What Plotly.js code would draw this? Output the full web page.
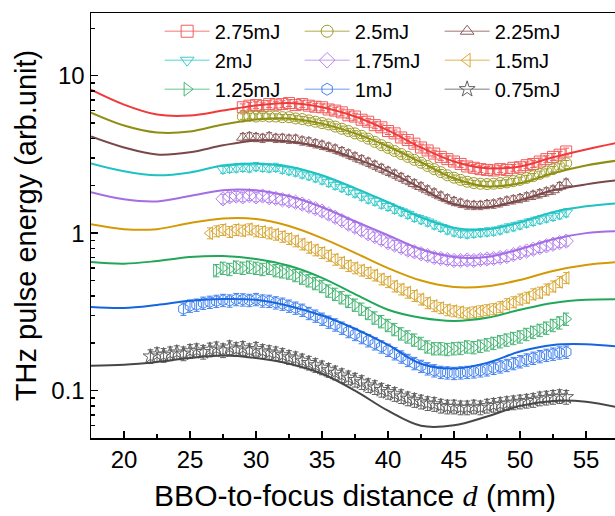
<!DOCTYPE html>
<html><head><meta charset="utf-8">
<script src="https://cdn.plot.ly/plotly-3.0.1.min.js"></script>
<style>html,body{margin:0;padding:0;overflow:hidden;background:#fff;width:615px;height:516px}#chart{width:625px;height:516px}</style>
</head><body><div id="chart"></div>
<script>
// ---- data ----
const names = ['2.75mJ','2.5mJ','2.25mJ','2mJ','1.75mJ','1.5mJ','1.25mJ','1mJ','0.75mJ'];
const xFit = [17.5,20,22.5,25,27.5,30,32.5,35,37.5,40,42.5,45,47.5,50,52.5,55,57.5];
const fit275 = [8.15,6.55,5.66,5.58,6.0,6.46,6.7,6.3,5.5,4.49,3.5,2.85,2.58,2.65,3.03,3.4,3.77];
const fit250 = [5.83,4.83,4.36,4.42,4.9,5.27,5.35,4.96,4.3,3.55,2.82,2.23,1.98,2.07,2.4,2.69,2.9];
const fit225 = [4.11,3.5,3.16,3.26,3.61,3.88,3.82,3.5,2.98,2.47,1.93,1.53,1.46,1.62,1.87,2.04,2.17];
const fit200 = [2.77,2.47,2.33,2.43,2.69,2.77,2.65,2.33,1.93,1.57,1.26,1.08,1.06,1.17,1.36,1.48,1.55];
const fit175 = [1.82,1.64,1.59,1.72,1.87,1.87,1.72,1.46,1.19,0.97,0.79,0.705,0.705,0.79,0.915,1.0,1.03];
const fit150 = [1.14,1.06,1.06,1.16,1.24,1.23,1.11,0.93,0.75,0.6,0.5,0.455,0.46,0.504,0.575,0.627,0.655];
const fit125 = [0.655,0.64,0.665,0.705,0.715,0.685,0.62,0.52,0.41,0.326,0.29,0.277,0.29,0.326,0.36,0.377,0.38];
const fit100 = [0.34,0.335,0.35,0.372,0.382,0.377,0.345,0.3,0.247,0.195,0.148,0.138,0.15,0.177,0.195,0.197,0.19];
const fit075 = [0.144,0.146,0.152,0.161,0.167,0.161,0.148,0.128,0.1,0.0745,0.0598,0.0602,0.0685,0.08,0.086,0.085,0.078];

// measured points, all ending at 53.5 mm
const xData = [22,22.5,23,23.5,24,24.5,25,25.5,26,26.5,27,27.5,28,28.5,29,29.5,30,30.5,31,31.5,32,32.5,33,33.5,34,34.5,35,35.5,36,36.5,37,37.5,38,38.5,39,39.5,40,40.5,41,41.5,42,42.5,43,43.5,44,44.5,45,45.5,46,46.5,47,47.5,48,48.5,49,49.5,50,50.5,51,51.5,52,52.5,53,53.5];
const dat275 = [6.3,6.45,6.5,6.4,6.6,6.55,6.6,6.7,6.5,6.6,6.45,6.35,6.3,6.1,6.0,5.85,5.6,5.5,5.25,5.1,4.85,4.7,4.45,4.3,4.05,3.9,3.7,3.5,3.35,3.2,3.05,2.95,2.85,2.75,2.65,2.6,2.55,2.52,2.5,2.55,2.52,2.6,2.62,2.7,2.75,2.85,2.95,3.05,3.15,3.3];
const dat250 = [5.5,5.55,5.5,5.55,5.5,5.5,5.45,5.45,5.35,5.3,5.2,5.1,5.0,4.9,4.75,4.6,4.45,4.3,4.15,3.98,3.8,3.62,3.48,3.32,3.18,3.05,2.92,2.8,2.67,2.55,2.44,2.33,2.25,2.18,2.12,2.08,2.06,2.05,2.06,2.08,2.1,2.14,2.18,2.24,2.3,2.38,2.46,2.55,2.65,2.78];
const dat225 = [4.05,4.1,4.05,4.0,4.1,4.0,4.0,3.95,3.95,3.85,3.8,3.7,3.62,3.52,3.42,3.3,3.18,3.05,2.93,2.82,2.7,2.58,2.47,2.37,2.26,2.16,2.06,1.97,1.88,1.8,1.72,1.65,1.59,1.55,1.51,1.5,1.5,1.52,1.53,1.56,1.6,1.63,1.66,1.7,1.74,1.78,1.83,1.88,1.98,2.08];
const dat200 = [2.55,2.58,2.6,2.62,2.6,2.65,2.62,2.6,2.62,2.55,2.5,2.45,2.38,2.32,2.25,2.18,2.1,2.02,1.95,1.87,1.8,1.72,1.65,1.6,1.53,1.48,1.42,1.37,1.32,1.26,1.22,1.18,1.13,1.09,1.05,1.02,1.0,0.99,1.0,1.01,1.02,1.03,1.05,1.08,1.1,1.13,1.16,1.19,1.22,1.25,1.28,1.31,1.35];
const dat175 = [1.65,1.7,1.72,1.7,1.73,1.7,1.72,1.68,1.66,1.63,1.6,1.57,1.53,1.48,1.43,1.38,1.32,1.26,1.2,1.14,1.09,1.04,0.99,0.95,0.91,0.87,0.84,0.81,0.78,0.76,0.74,0.72,0.7,0.69,0.68,0.67,0.67,0.675,0.67,0.68,0.685,0.69,0.7,0.71,0.73,0.75,0.77,0.79,0.81,0.83,0.85,0.87,0.89];
const dat150 = [1.0,1.03,1.05,1.02,1.05,1.04,1.06,1.03,1.02,1.0,0.98,0.95,0.92,0.89,0.85,0.81,0.78,0.75,0.72,0.68,0.65,0.62,0.6,0.58,0.56,0.54,0.51,0.49,0.46,0.44,0.42,0.4,0.38,0.36,0.345,0.335,0.325,0.32,0.315,0.31,0.315,0.32,0.325,0.33,0.34,0.355,0.365,0.38,0.39,0.41,0.42,0.44,0.46,0.49,0.52];
const dat125 = [0.58,0.6,0.59,0.61,0.6,0.61,0.6,0.59,0.6,0.58,0.57,0.56,0.54,0.52,0.5,0.48,0.46,0.43,0.41,0.39,0.37,0.35,0.33,0.31,0.29,0.275,0.26,0.245,0.23,0.22,0.21,0.2,0.19,0.185,0.185,0.183,0.185,0.186,0.19,0.188,0.192,0.196,0.2,0.205,0.21,0.215,0.22,0.228,0.235,0.242,0.25,0.26,0.27,0.285];
const dat100 = [0.33,0.345,0.35,0.36,0.365,0.37,0.375,0.372,0.38,0.378,0.375,0.38,0.372,0.37,0.362,0.355,0.345,0.335,0.325,0.31,0.298,0.285,0.273,0.262,0.25,0.238,0.228,0.218,0.208,0.199,0.19,0.181,0.172,0.164,0.156,0.149,0.143,0.138,0.134,0.131,0.13,0.129,0.13,0.131,0.132,0.134,0.136,0.139,0.142,0.145,0.149,0.153,0.157,0.161,0.165,0.168,0.171,0.174,0.176];
const dat075 = [0.165,0.17,0.168,0.172,0.175,0.172,0.178,0.18,0.176,0.182,0.185,0.18,0.188,0.183,0.186,0.18,0.184,0.178,0.175,0.172,0.168,0.163,0.16,0.155,0.15,0.145,0.14,0.135,0.13,0.125,0.121,0.117,0.113,0.108,0.105,0.101,0.098,0.095,0.092,0.089,0.087,0.085,0.083,0.082,0.08,0.079,0.079,0.078,0.078,0.079,0.078,0.08,0.081,0.082,0.083,0.084,0.085,0.086,0.087,0.089,0.09,0.091,0.092,0.091];
const errPct = [5,4,6,6,7,8,9,9,10];

const yTickVals = [0.1,1,10];
const yTickText = ['0.1','1','10'];
const yMinorVals = [0.06,0.07,0.08,0.09,0.2,0.3,0.4,0.5,0.6,0.7,0.8,0.9,2,3,4,5,6,7,8,9,20];
const xTickVals = [20,25,30,35,40,45,50,55];

// ---- styles ----
const fits = [fit275,fit250,fit225,fit200,fit175,fit150,fit125,fit100,fit075];
const dats = [dat275,dat250,dat225,dat200,dat175,dat150,dat125,dat100,dat075];
const symbols = ['square-open','circle-open','triangle-up-open','triangle-down-open','diamond-open','triangle-left-open','triangle-right-open','hexagon-open','star-open'];
const fitColors = ['#F03A3A','#8E8E12','#7A4848','#1FC2C2','#A56DE3','#D39A05','#22A75A','#1565E0','#474747'];
const mkColors  = ['#F25C5C','#9C9C26','#8C5E5E','#3ACBCB','#B483F0','#D9A93A','#47B676','#4584F0','#606060'];
const lgLine    = ['#F7A5A5','#C8C88A','#BFA3A3','#8FE3E3','#D6BDF5','#EBCE8C','#9BD9B4','#9CBCF5','#A8A8A8'];

const F = 'Liberation Sans, Arial, sans-serif';
const traces = [];
for (let i = 0; i < names.length; i++) {
  const y = dats[i];
  traces.push({
    x: xData.slice(xData.length - y.length), y: y, type: 'scatter', mode: 'markers',
    showlegend: false, hoverinfo: 'skip',
    marker: {symbol: symbols[i], size: 11, color: mkColors[i], line: {width: 1, color: mkColors[i]}},
    error_y: {type: 'percent', value: errPct[i], color: mkColors[i], thickness: 1, width: 3}
  });
}
for (let i = 0; i < names.length; i++) {
  traces.push({
    x: xFit, y: fits[i], type: 'scatter', mode: 'lines', showlegend: false, hoverinfo: 'skip',
    line: {color: fitColors[i], width: 2, shape: 'spline', smoothing: 1}
  });
}
for (let i = 0; i < names.length; i++) {
  traces.push({
    x: [null], y: [null], type: 'scatter', mode: 'lines+markers', name: names[i], showlegend: true,
    line: {color: lgLine[i], width: 1.5},
    marker: {symbol: symbols[i], size: 12, color: mkColors[i], line: {width: 1, color: mkColors[i]}}
  });
}

const yRange = [Math.log10(0.05), Math.log10(25)];
const layout = {
  width: 625, height: 516,
  margin: {l: 91, r: 6, t: 13, b: 78},
  paper_bgcolor: '#fff', plot_bgcolor: '#fff',
  font: {family: F, color: '#000'},
  showlegend: true,
  legend: {orientation: 'h', x: 0.13, y: 1.003, xanchor: 'left', yanchor: 'top',
    font: {family: F, size: 20, color: '#000'}, bgcolor: 'rgba(0,0,0,0)',
    itemwidth: 45, entrywidth: 80, entrywidthmode: 'pixels', traceorder: 'normal', tracegroupgap: 0},
  xaxis: {
    range: [17.5, 57.5], tickmode: 'array', tickvals: xTickVals, ticks: 'inside', ticklen: 7, tickwidth: 1.5,
    tickcolor: '#000', showline: true, linecolor: '#000', linewidth: 1.5, mirror: true, showgrid: false, zeroline: false,
    tickfont: {family: F, size: 24, color: '#000'},
    minor: {dtick: 2.5, tick0: 17.5, ticks: 'inside', ticklen: 4, tickwidth: 1.5, tickcolor: '#000', showgrid: false},
    title: {text: 'BBO-to-focus distance <i><span style="font-family:Liberation Serif">d</span></i> (mm)', font: {family: F, size: 30, color: '#000'}, standoff: 12}
  },
  yaxis: {
    type: 'log', range: yRange, tickmode: 'array', tickvals: yTickVals, ticktext: yTickText,
    ticks: 'inside', ticklen: 7, tickwidth: 1.5, tickcolor: '#000',
    showline: true, linecolor: '#000', linewidth: 1.5, mirror: true, showgrid: false, zeroline: false,
    tickfont: {family: F, size: 24, color: '#000'},
    minor: {tickmode: 'array', tickvals: yMinorVals, ticks: 'inside', ticklen: 4, tickwidth: 1.5, tickcolor: '#000', showgrid: false},
    title: {text: 'THz pulse energy (arb.unit)', font: {family: F, size: 29, color: '#000'}, standoff: 6}
  },
  yaxis2: {
    type: 'log', range: yRange, overlaying: 'y', side: 'right', anchor: 'x',
    tickmode: 'array', tickvals: yTickVals, ticks: 'inside', ticklen: 7, tickwidth: 1.5, tickcolor: '#000',
    showticklabels: false, showline: false, showgrid: false, zeroline: false
  }
};
Plotly.newPlot('chart', traces, layout, {displayModeBar: false, staticPlot: true});
</script></body></html>
